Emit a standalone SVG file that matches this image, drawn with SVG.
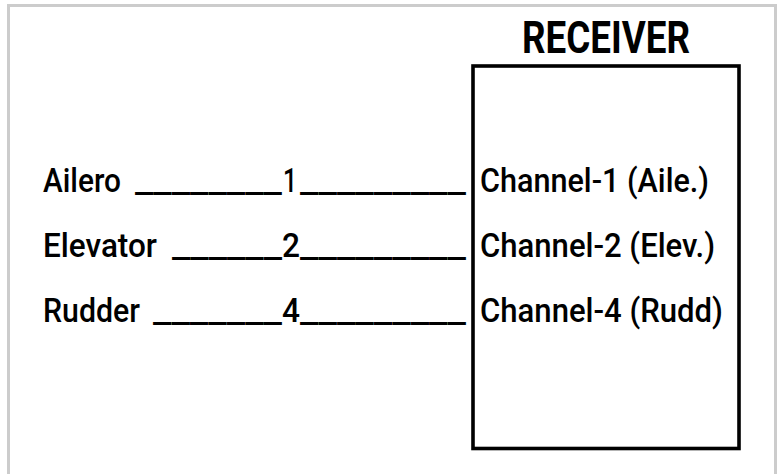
<svg xmlns="http://www.w3.org/2000/svg" width="783" height="474" viewBox="0 0 783 474">
<style>
  .t { font-family: Roboto, "Liberation Sans", Arial, sans-serif; font-size: 34px; font-weight: 500; fill: #000; }
  .title { font-family: Roboto, "Liberation Sans", Arial, sans-serif; font-size: 44px; font-weight: 700; fill: #000; }
  .frame { fill: #fff; stroke: #cccccc; stroke-width: 3; }
  .box { fill: none; stroke: #000; stroke-width: 3.6; }
</style>
<rect width="783" height="474" fill="#fff"/>
<rect class="frame" x="8.5" y="5.5" width="767" height="490"/>
<g id="receiver">
  <text class="title" x="522" y="53" textLength="168" lengthAdjust="spacingAndGlyphs">RECEIVER</text>
  <rect class="box" x="473" y="66" width="266" height="382.5"/>
  <text class="t" x="480" y="192" textLength="229" lengthAdjust="spacingAndGlyphs">Channel-1 (Aile.)</text>
  <text class="t" x="480" y="257" textLength="235" lengthAdjust="spacingAndGlyphs">Channel-2 (Elev.)</text>
  <text class="t" x="480" y="322" textLength="243" lengthAdjust="spacingAndGlyphs">Channel-4 (Rudd)</text>
</g>
<g id="connectors">
  <text id="row-ailero" class="t" y="192"><tspan x="43" textLength="78" lengthAdjust="spacingAndGlyphs">Ailero</tspan> <tspan x="135" textLength="147" lengthAdjust="spacingAndGlyphs">________</tspan><tspan x="283" textLength="14" lengthAdjust="spacingAndGlyphs">1</tspan><tspan x="300" textLength="166" lengthAdjust="spacingAndGlyphs">_________</tspan></text>
  <text id="row-elevator" class="t" y="257"><tspan x="43" textLength="114" lengthAdjust="spacingAndGlyphs">Elevator</tspan> <tspan x="172" textLength="110" lengthAdjust="spacingAndGlyphs">______</tspan><tspan x="282" textLength="18" lengthAdjust="spacingAndGlyphs">2</tspan><tspan x="300" textLength="166" lengthAdjust="spacingAndGlyphs">_________</tspan></text>
  <text id="row-rudder" class="t" y="322"><tspan x="43" textLength="97" lengthAdjust="spacingAndGlyphs">Rudder</tspan> <tspan x="153" textLength="129" lengthAdjust="spacingAndGlyphs">_______</tspan><tspan x="282" textLength="18" lengthAdjust="spacingAndGlyphs">4</tspan><tspan x="300" textLength="166" lengthAdjust="spacingAndGlyphs">_________</tspan></text>
</g>
</svg>
